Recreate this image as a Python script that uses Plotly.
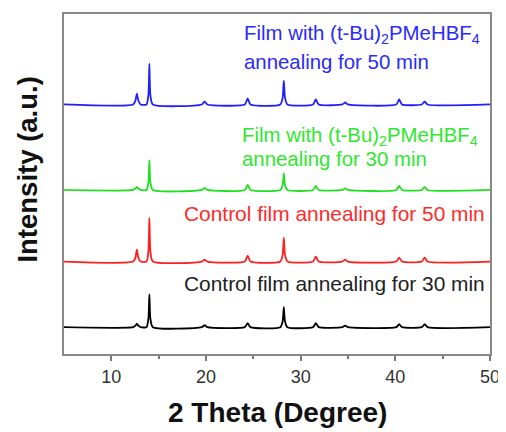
import plotly.graph_objects as go

# 2-theta sample positions (degrees)
two_theta = [5.0,
             12.3, 12.55, 12.7, 12.85, 13.1,
             13.72, 13.92, 14.02, 14.12, 14.38,
             19.55, 19.85, 20.15,
             24.1, 24.4, 24.7,
             27.85, 28.1, 28.22, 28.34, 28.6,
             31.3, 31.6, 31.9,
             34.4, 34.7, 35.0,
             40.1, 40.4, 40.7,
             42.8, 43.1, 43.4,
             50.0]

# intensities above each pattern's own baseline (a.u.)
blue_50_additive = [0, 0, 4, 11, 4, 0, 0, 10, 41, 10, 0, 0, 3, 0, 0, 6, 0,
                    0, 7, 24, 7, 0, 0, 5, 0, 0, 2, 0, 0, 5, 0, 0, 3, 0, 0]
green_30_additive = [0, 0, 1.5, 3, 1.5, 0, 0, 8, 30, 8, 0, 0, 2, 0, 0, 5, 0,
                     0, 5, 17, 5, 0, 0, 4, 0, 0, 1.5, 0, 0, 4, 0, 0, 3, 0, 0]
red_50_control = [0, 0, 4, 12, 4, 0, 0, 11, 44, 11, 0, 0, 2, 0, 0, 6, 0,
                  0, 7, 24, 7, 0, 0, 5, 0, 0, 2, 0, 0, 4, 0, 0, 4, 0, 0]
black_30_control = [0, 0, 1.5, 3.5, 1.5, 0, 0, 9, 33, 9, 0, 0, 2, 0, 0, 4, 0,
                    0, 6, 20, 6, 0, 0, 4, 0, 0, 1.5, 0, 0, 3, 0, 0, 3, 0, 0]

# vertical stacking offsets
offsets = [27, 93, 165, 251]
series = [black_30_control, red_50_control, green_30_additive, blue_50_additive]
colors = ["#000000", "#ff1f1f", "#1fe01f", "#1f1fff"]
text_colors = ["#222222", "#ff2a2a", "#2ee82e", "#2a2aff"]
x_ticks = [10, 20, 30, 40, 50]

fig = go.Figure()
for ys, off, c in zip(series, offsets, colors):
    fig.add_trace(go.Scatter(x=two_theta, y=[v + off for v in ys], mode="lines",
                             line=dict(color=c, width=1.8, shape="spline", smoothing=0.6),
                             hoverinfo="skip", showlegend=False))

FONT = "Liberation Sans, Arial, sans-serif"
ann = []
# blue labels
ann.append(dict(x=23.8, y=354 - 33, text="Film with (t-Bu)<sub>2</sub>PMeHBF<sub>4</sub>",
                xanchor="left", yanchor="middle", font=dict(color=text_colors[3], size=20.4)))
ann.append(dict(x=23.8, y=354 - 60, text="annealing for 50 min",
                xanchor="left", yanchor="middle", font=dict(color=text_colors[3], size=20.4)))
# green labels
ann.append(dict(x=23.6, y=354 - 135, text="Film with (t-Bu)<sub>2</sub>PMeHBF<sub>4</sub>",
                xanchor="left", yanchor="middle", font=dict(color=text_colors[2], size=20.4)))
ann.append(dict(x=23.6, y=354 - 158, text="annealing for 30 min",
                xanchor="left", yanchor="middle", font=dict(color=text_colors[2], size=20.4)))
# red / black labels
ann.append(dict(x=49.7, y=354 - 213, text="Control film annealing for 50 min",
                xanchor="right", yanchor="middle", font=dict(color=text_colors[1], size=20.9)))
ann.append(dict(x=49.7, y=354 - 283, text="Control film annealing for 30 min",
                xanchor="right", yanchor="middle", font=dict(color=text_colors[0], size=20.9)))
for a in ann:
    a.update(xref="x", yref="y", showarrow=False)
    a["font"]["family"] = FONT

# axis titles
ann.append(dict(xref="paper", yref="paper", x=(27.5 - 64) / 426, y=(354 - 169) / 342,
                text="<b>Intensity (a.u.)</b>", textangle=-90, showarrow=False,
                xanchor="center", yanchor="middle",
                font=dict(family=FONT, size=27.5, color="#111111")))
ann.append(dict(xref="paper", yref="paper", x=0.5, y=(354 - 413) / 342,
                text="<b>2 Theta (Degree)</b>", showarrow=False,
                xanchor="center", yanchor="middle",
                font=dict(family=FONT, size=28, color="#111111")))

# page body has an 8px default margin, so the figure is sized/shifted to compensate
fig.update_layout(
    width=498, height=424,
    margin=dict(l=56, r=16, t=4, b=78),
    paper_bgcolor="white", plot_bgcolor="white",
    annotations=ann,
    xaxis=dict(range=[5, 50], tickvals=x_ticks, ticks="outside", ticklen=5,
               tickwidth=1.5, tickcolor="#777777",
               minor=dict(tickvals=[15, 25, 35, 45], ticks="outside", ticklen=3,
                          tickwidth=1.5, tickcolor="#777777"),
               showline=True, linecolor="#888888", linewidth=2, mirror=True,
               showgrid=False, zeroline=False,
               tickfont=dict(family=FONT, size=18, color="#333333")),
    yaxis=dict(range=[0, 342], showticklabels=False, ticks="",
               showline=True, linecolor="#888888", linewidth=2, mirror=True,
               showgrid=False, zeroline=False),
)

fig.write_html("out.html")
